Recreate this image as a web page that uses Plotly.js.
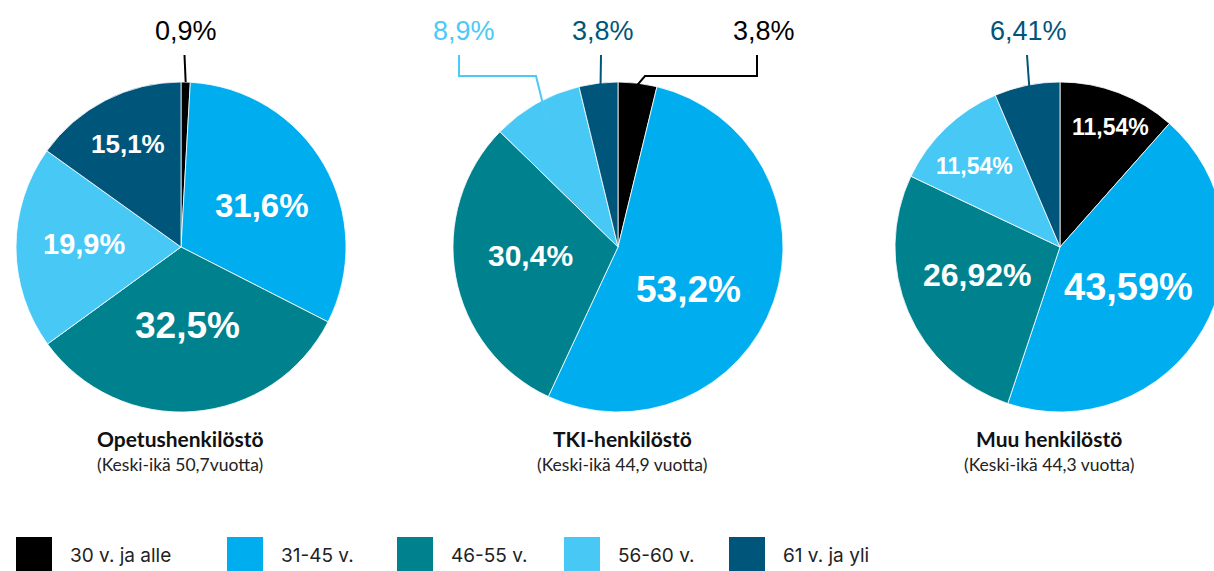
<!DOCTYPE html>
<html>
<head>
<meta charset="utf-8">
<script src="https://cdn.plot.ly/plotly-3.0.1.min.js"></script>
<style>
html, body { margin: 0; padding: 0; overflow: hidden; background: #fff; }
#chart { width: 1240px; height: 571px; }
</style>
</head>
<body>
<div id="chart"></div>
<script>
// data
const categories = ['30 v. ja alle', '31-45 v.', '46-55 v.', '56-60 v.', '61 v. ja yli'];
const opetus = [0.9, 31.6, 32.5, 19.9, 15.1];
const tki = [3.8, 53.2, 30.4, 8.9, 3.8];
const muu = [11.54, 43.59, 26.92, 11.54, 6.41];
const groups = ['Opetushenkilöstö', 'TKI-henkilöstö', 'Muu henkilöstö'];
const subtitles = ['(Keski-ikä 50,7vuotta)', '(Keski-ikä 44,9 vuotta)', '(Keski-ikä 44,3 vuotta)'];
const decimals = [1, 1, 2];

const colors = ['#000000', '#00AEEF', '#00828E', '#48C8F5', '#00567A'];

// page geometry (px)
const W = 1240, H = 571;
const R = 165;
const centers = [[181, 247], [618, 247], [1060, 247]];
const titleX = [180, 622, 1049];

// label style per slice: inside (r = radius fraction, da = angle nudge, s = size)
// or outside (lx label x, tx line x, bend [y, x] elbow, ar anchor radius)
const labelStyle = [
  [{out: true, lx: 186, tx: 184.5, ar: 1.0},
   {r: 0.55, da: 2.6, s: 33}, {r: 0.48, da: 0, s: 37}, {r: 0.59, da: 2, s: 29}, {r: 0.70, da: 0, s: 26}],
  [{out: true, lx: 764, tx: 757, bend: [76, 645], ar: 0.99},
   {r: 0.50, da: 12, s: 37}, {r: 0.535, da: 5, s: 30},
   {out: true, lx: 464, tx: 459, bend: [76, 536], ar: 0.86},
   {out: true, lx: 603, tx: 601, ar: 0.9}],
  [{r: 0.79, da: 2, s: 23}, {r: 0.48, da: 0, s: 38}, {r: 0.53, da: 4.5, s: 32}, {r: 0.71, da: -2.7, s: 23},
   {out: true, lx: 1028, tx: 1027, ar: 0.9}]
];
const legendX = [16, 227, 397, 564, 729];

const px = x => x / W;
const py = y => 1 - y / H;

const series = [opetus, tki, muu];
let traces = [];
let annotations = [];
let shapes = [];

series.forEach((vals, k) => {
  const [cx, cy] = centers[k];
  traces.push({
    type: 'pie',
    values: vals,
    labels: categories,
    sort: false,
    direction: 'clockwise',
    rotation: 0,
    marker: {colors: colors, line: {color: '#ffffff', width: 0.8}},
    textinfo: 'none',
    hoverinfo: 'label+percent',
    showlegend: false,
    domain: {x: [px(cx - R), px(cx + R)], y: [py(cy + R), py(cy - R)]}
  });

  const total = vals.reduce((a, b) => a + b, 0);
  let cum = 0;
  vals.forEach((v, i) => {
    const mid = (cum + v / 2) / total * 360;
    cum += v;
    const st = labelStyle[k][i];
    const txt = v.toFixed(decimals[k]).replace('.', ',') + '%';
    if (st.out) {
      const a = mid * Math.PI / 180;
      const ax = cx + R * st.ar * Math.sin(a);
      const ay = cy - R * st.ar * Math.cos(a);
      const col = colors[i] === '#48C8F5' ? '#4DC9F6' : colors[i];
      annotations.push({
        xref: 'paper', yref: 'paper', x: px(st.lx), y: py(31.5),
        text: txt, showarrow: false, xanchor: 'center', yanchor: 'middle',
        font: {family: 'Liberation Sans, Arial, sans-serif', size: 27, color: col}
      });
      let path = 'M' + px(st.tx) + ',' + py(55);
      if (st.bend) {
        path += ' L' + px(st.tx) + ',' + py(st.bend[0]);
        path += ' L' + px(st.bend[1]) + ',' + py(st.bend[0]);
      }
      path += ' L' + px(ax) + ',' + py(ay);
      shapes.push({type: 'path', xref: 'paper', yref: 'paper', path: path,
        line: {color: col, width: 2}});
    } else {
      const a = (mid + st.da) * Math.PI / 180;
      const lx = cx + R * st.r * Math.sin(a);
      const ly = cy - R * st.r * Math.cos(a);
      annotations.push({
        xref: 'paper', yref: 'paper', x: px(lx), y: py(ly),
        text: '<b>' + txt + '</b>', showarrow: false, xanchor: 'center', yanchor: 'middle',
        font: {family: 'Liberation Sans, Arial, sans-serif', size: st.s, color: '#ffffff'}
      });
    }
  });

  annotations.push({
    xref: 'paper', yref: 'paper', x: px(titleX[k]), y: py(438),
    text: '<b>' + groups[k] + '</b>', showarrow: false, xanchor: 'center', yanchor: 'middle',
    font: {family: 'Lato, sans-serif', size: 21, color: '#111111'}
  });
  annotations.push({
    xref: 'paper', yref: 'paper', x: px(titleX[k]), y: py(464),
    text: subtitles[k], showarrow: false, xanchor: 'center', yanchor: 'middle',
    font: {family: 'Lato, sans-serif', size: 17.5, color: '#222222'}
  });
});

// legend
categories.forEach((c, i) => {
  shapes.push({type: 'rect', xref: 'paper', yref: 'paper',
    x0: px(legendX[i]), x1: px(legendX[i] + 36), y0: py(580), y1: py(537),
    fillcolor: colors[i], line: {width: 0}});
  annotations.push({
    xref: 'paper', yref: 'paper', x: px(legendX[i] + 52), y: py(555),
    text: c, showarrow: false, xanchor: 'left', yanchor: 'middle',
    font: {family: 'Inter, sans-serif', size: 19, color: '#222222'}
  });
});

const layout = {
  width: W, height: H,
  margin: {l: 0, r: 0, t: 0, b: 0},
  paper_bgcolor: '#ffffff',
  showlegend: false,
  annotations: annotations,
  shapes: shapes
};

Plotly.newPlot('chart', traces, layout, {displayModeBar: false, staticPlot: true});
</script>
</body>
</html>
